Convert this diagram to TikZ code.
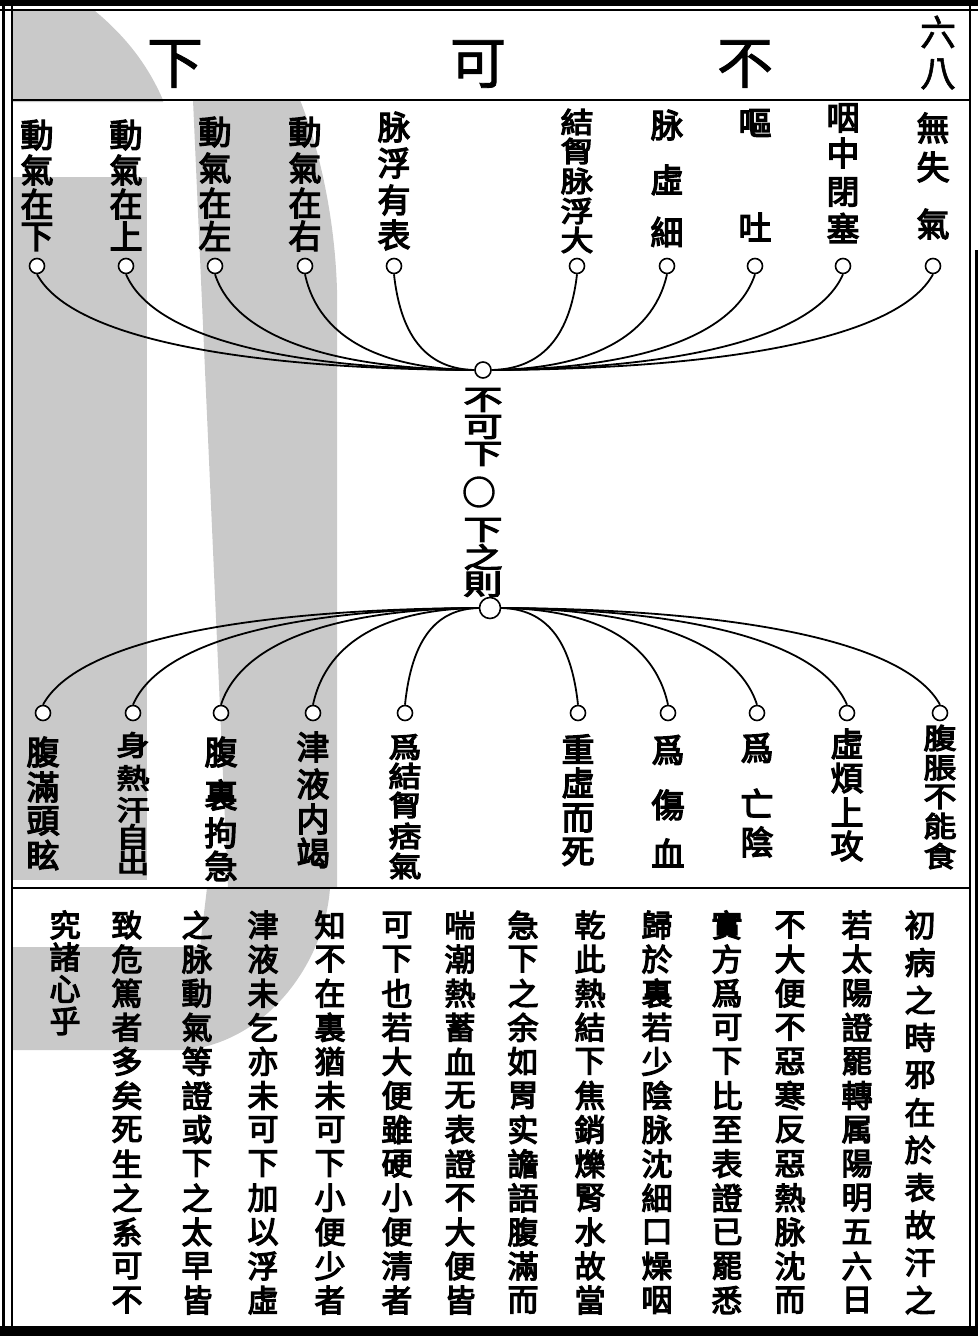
\documentclass[tikz,border=0pt]{standalone}
\usepackage{fontspec}
\usepackage{graphicx}
\newfontfamily\cjk[FakeBold=4]{Noto Sans CJK TC}
\newfontfamily\cjkt[FakeBold=1.5]{Noto Sans CJK TC}
\tikzset{
  lab/.style={inner sep=0pt, font={\cjk\fontsize{33}{33}\selectfont}},
  txt/.style={inner sep=0pt, font={\cjk\fontsize{31}{31}\selectfont}},
  ttl/.style={inner sep=0pt, font={\cjkt\fontsize{56}{56}\selectfont}},
  pgn/.style={inner sep=0pt, font={\cjkt\fontsize{36}{36}\selectfont}},
  mid/.style={inner sep=0pt, font={\cjk\fontsize{39}{39}\selectfont}},
  dot/.style={circle, draw, line width=1.6pt, fill=white, minimum size=15pt, inner sep=0pt},
  hub/.style={circle, draw, line width=1.6pt, fill=white, inner sep=0pt},
  wire/.style={line width=1.8pt},
  frame/.style={line width=2pt},
  wm/.style={fill=black!21, draw=none}
}
\newcommand{\vcol}[5]{\foreach \ch [count=\i] in {#5} {\node[txt] (#1-\i) at (#2,{#3+(\i-1)*#4}) {\ch};}}
\begin{document}
\begin{tikzpicture}[x=1pt,y=-1pt]
\useasboundingbox (0,0) rectangle (978,1336);
% watermark (approximate)
\path[wm] (12,11) -- (95,11) .. controls (130,40) and (150,70) .. (163,100) -- (163,102) -- (12,102) -- cycle;
\path[wm] (193,100) -- (300,100) .. controls (320,150) and (335,220) .. (337,290) -- (337,888) -- (228,888) -- cycle;
\path[wm] (13,177) rectangle (147,880);
\path[wm] (13,947) -- (200,947) -- (207,888) -- (330,888) .. controls (325,960) and (270,1040) .. (187,1050) -- (13,1050) -- cycle;
% frame
\fill (0,0) rectangle (978,6);
\draw[frame] (0,10) -- (978,10);
\draw[line width=3pt] (3,6) -- (3,1330);
\draw[frame] (12,6) -- (12,1330);
\draw[frame] (970,6) -- (970,1330);
\fill (975,250) rectangle (978,1336);
\draw[frame] (12,100) -- (970,100);
\draw[frame] (12,888) -- (970,888);
\fill (0,1326) rectangle (978,1336);
% title
\node[ttl] (tA) at (175,64) {下};
\node[ttl] (tB) at (478,64) {可};
\node[ttl] (tC) at (745,64) {不};
\node[pgn] (p1) at (938,32) {六};
\node[pgn] (p2) at (938,74) {八};
% top labels
\foreach \ch/\y [count=\i] in {動/135,氣/170,在/204,下/237} \node[lab] (L1-\i) at (37,\y) {\ch};
\foreach \ch/\y [count=\i] in {動/135,氣/170,在/204,上/236} \node[lab] (L2-\i) at (126,\y) {\ch};
\foreach \ch/\y [count=\i] in {動/132,氣/168,在/203,左/236} \node[lab] (L3-\i) at (215,\y) {\ch};
\foreach \ch/\y [count=\i] in {動/132,氣/168,在/203,右/236} \node[lab] (L4-\i) at (305,\y) {\ch};
\foreach \ch/\y [count=\i] in {脉/127,浮/163,有/200,表/235} \node[lab] (L5-\i) at (394,\y) {\ch};
\foreach \ch/\y [count=\i] in {結/122,胷/151,脉/181,浮/211,大/240} \node[lab] (L6-\i) at (577,\y) {\scalebox{1}[0.86]{\ch}};
\foreach \ch/\y [count=\i] in {脉/125,虛/180,細/232} \node[lab] (L7-\i) at (667,\y) {\ch};
\foreach \ch/\y [count=\i] in {嘔/123,吐/227} \node[lab] (L8-\i) at (755,\y) {\ch};
\foreach \ch/\y [count=\i] in {咽/118,中/153,閉/192,塞/228} \node[lab] (L9-\i) at (843,\y) {\ch};
\foreach \ch/\y [count=\i] in {無/128,失/167,氣/224} \node[lab] (L10-\i) at (933,\y) {\ch};
% top circles and hub
\foreach \n/\x in {1/37,2/126,3/215,4/305,5/394,6/577,7/667,8/755,9/843,10/933} \node[dot] (t\n) at (\x,266) {};
\node[hub, minimum size=16pt] (hubT) at (483,370) {};
\foreach \n/\x in {1/37,2/126,3/215,4/305,5/394} {
  \pgfmathsetmacro\d{483-\x}
  \draw[wire] (t\n.south) .. controls +({0.08*\d},66) and +({-0.5*\d},-1) .. (hubT.west);
}
\foreach \n/\x in {6/577,7/667,8/755,9/843,10/933} {
  \pgfmathsetmacro\d{\x-483}
  \draw[wire] (t\n.south) .. controls +({-0.08*\d},66) and +({0.5*\d},-1) .. (hubT.east);
}
% middle text
\node[mid] (m1) at (483,400) {\scalebox{1}[0.72]{不}};
\node[mid] (m2) at (483,427) {\scalebox{1}[0.72]{可}};
\node[mid] (m3) at (483,454) {\scalebox{1}[0.72]{下}};
\node[circle, draw, line width=2.4pt, minimum size=29pt, inner sep=0pt] (mc) at (479,492) {};
\node[mid] (m4) at (483,530) {\scalebox{1}[0.72]{下}};
\node[mid] (m5) at (483,557) {\scalebox{1}[0.72]{之}};
\node[mid] (m6) at (483,584) {\scalebox{1}[0.72]{則}};
% bottom hub and circles
\node[hub, minimum size=21pt] (hubB) at (490,608) {};
\foreach \n/\x in {1/43,2/133,3/221,4/313,5/405,6/578,7/668,8/757,9/847,10/940} \node[dot] (b\n) at (\x,713) {};
\foreach \n/\x in {1/43,2/133,3/221,4/313,5/405} {
  \pgfmathsetmacro\d{490-\x}
  \draw[wire] (hubB.west) .. controls +({-0.5*\d},1) and +({0.08*\d},-66) .. (b\n.north);
}
\foreach \n/\x in {6/578,7/668,8/757,9/847,10/940} {
  \pgfmathsetmacro\d{\x-490}
  \draw[wire] (hubB.east) .. controls +({0.5*\d},1) and +({-0.08*\d},-66) .. (b\n.north);
}
% bottom labels
\foreach \ch/\y [count=\i] in {腹/752,滿/787,頭/821,眩/855} \node[lab] (B1-\i) at (43,\y) {\ch};
\foreach \ch/\y [count=\i] in {身/745,熱/778,汗/810,自/837,出/862} \node[lab] (B2-\i) at (133,\y) {\scalebox{1}[0.84]{\ch}};
\foreach \ch/\y [count=\i] in {腹/752,裏/795,拘/833,急/866} \node[lab] (B3-\i) at (221,\y) {\ch};
\foreach \ch/\y [count=\i] in {津/747,液/784,内/819,竭/853} \node[lab] (B4-\i) at (313,\y) {\ch};
\foreach \ch/\y [count=\i] in {爲/747,結/776,胷/805,痞/836,氣/866} \node[lab] (B5-\i) at (405,\y) {\scalebox{1}[0.86]{\ch}};
\foreach \ch/\y [count=\i] in {重/749,虛/783,而/818,死/852} \node[lab] (B6-\i) at (578,\y) {\ch};
\foreach \ch/\y [count=\i] in {爲/750,傷/805,血/853} \node[lab] (B7-\i) at (668,\y) {\ch};
\foreach \ch/\y [count=\i] in {爲/748,亡/803,陰/842} \node[lab] (B8-\i) at (757,\y) {\ch};
\foreach \ch/\y [count=\i] in {虛/744,煩/778,上/812,攻/846} \node[lab] (B9-\i) at (847,\y) {\ch};
\foreach \ch/\y [count=\i] in {腹/738,脹/768,不/797,能/826,食/856} \node[lab] (B10-\i) at (940,\y) {\scalebox{1}[0.86]{\ch}};
% lower text
\vcol{c1}{920}{925}{37.5}{初,病,之,時,邪,在,於,表,故,汗,之}
\vcol{c2}{857}{925}{34.1}{若,太,陽,證,罷,轉,属,陽,明,五,六,日}
\vcol{c3}{790}{925}{34.1}{不,大,便,不,惡,寒,反,惡,熱,脉,沈,而}
\vcol{c4}{727}{925}{34.1}{實,方,爲,可,下,比,至,表,證,已,罷,悉}
\vcol{c5}{657}{925}{34.1}{歸,於,裏,若,少,陰,脉,沈,細,口,燥,咽}
\vcol{c6}{590}{925}{34.1}{乾,此,熱,結,下,焦,銷,爍,腎,水,故,當}
\vcol{c7}{523}{925}{34.1}{急,下,之,余,如,胃,实,譫,語,腹,滿,而}
\vcol{c8}{460}{925}{34.1}{喘,潮,熱,蓄,血,无,表,證,不,大,便,皆}
\vcol{c9}{397}{925}{34.1}{可,下,也,若,大,便,雖,硬,小,便,清,者}
\vcol{c10}{330}{925}{34.1}{知,不,在,裏,猶,未,可,下,小,便,少,者}
\vcol{c11}{263}{925}{34.1}{津,液,未,乞,亦,未,可,下,加,以,浮,虛}
\vcol{c12}{197}{925}{34.1}{之,脉,動,氣,等,證,或,下,之,太,早,皆}
\vcol{c13}{127}{925}{34.1}{致,危,篤,者,多,矣,死,生,之,系,可,不}
\vcol{c14}{65}{925}{32}{究,諸,心,乎}
\end{tikzpicture}
\end{document}
